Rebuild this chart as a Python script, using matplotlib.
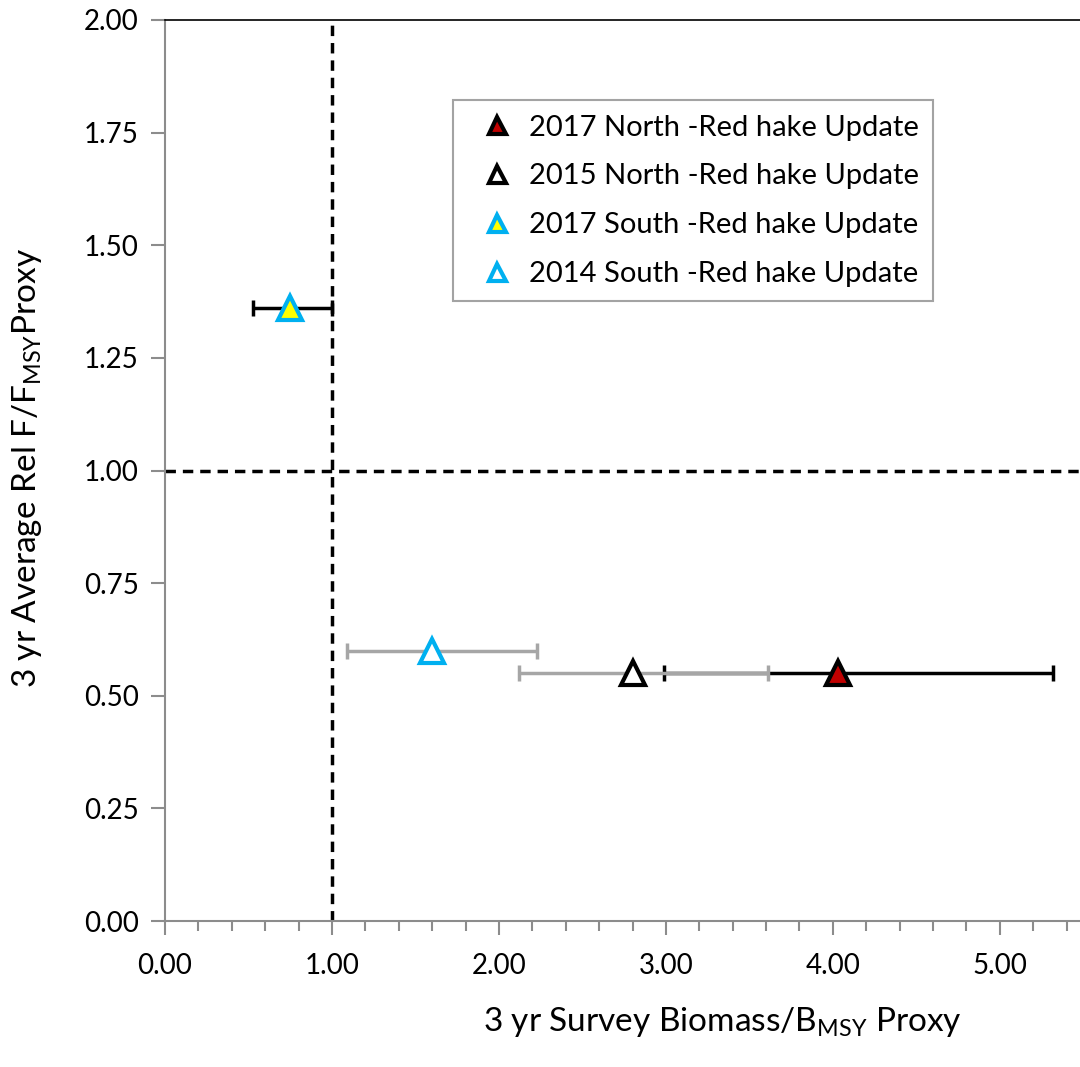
import matplotlib
matplotlib.use("Agg")
import matplotlib.pyplot as plt
from matplotlib.ticker import MultipleLocator, FormatStrFormatter

plt.rcParams['font.family'] = ['Lato', 'DejaVu Sans']

# series, drawn in this order (later on top)
labels = ["2017 North -Red hake Update", "2015 North -Red hake Update",
          "2017 South -Red hake Update", "2014 South -Red hake Update"]
x_vals = [4.03, 2.80, 0.75, 1.60]
y_vals = [0.55, 0.55, 1.36, 0.60]
x_lo = [2.99, 2.12, 0.53, 1.09]
x_hi = [5.32, 3.61, 1.00, 2.23]
face = ["#c00000", "white", "#ffff00", "white"]
edge = ["black", "black", "#00b0f0", "#00b0f0"]
err_col = ["black", "#a6a6a6", "black", "#a6a6a6"]

fig = plt.figure(figsize=(10.8, 10.67), dpi=100)
ax = fig.add_axes([165 / 1080, 1 - 921 / 1067, 1 - 165 / 1080, (921 - 20) / 1067])

for i in range(len(labels)):
    xerr = [[x_vals[i] - x_lo[i]], [x_hi[i] - x_vals[i]]]
    ax.errorbar([x_vals[i]], [y_vals[i]], xerr=xerr, fmt="none", ecolor=err_col[i],
                elinewidth=2.5, capsize=6, capthick=2.5, zorder=2 + i)

handles = []
for i in range(len(labels)):
    h, = ax.plot([x_vals[i]], [y_vals[i]], linestyle="none", marker="^", markersize=17,
                 markerfacecolor=face[i], markeredgecolor=edge[i], markeredgewidth=3,
                 label=labels[i], zorder=10)
    handles.append(h)

ax.axvline(1.0, color="black", linestyle=(0, (3, 2)), linewidth=2.5, zorder=1)
ax.axhline(1.0, color="black", linestyle=(0, (3, 2)), linewidth=2.5, zorder=1)

ax.set_xlim(0, 5.48)
ax.set_ylim(0, 2.0)
ax.xaxis.set_major_locator(MultipleLocator(1.0))
ax.xaxis.set_minor_locator(MultipleLocator(0.2))
ax.yaxis.set_major_locator(MultipleLocator(0.25))
ax.xaxis.set_major_formatter(FormatStrFormatter("%.2f"))
ax.yaxis.set_major_formatter(FormatStrFormatter("%.2f"))

for s in ("left", "bottom"):
    ax.spines[s].set_color("#8c8c8c")
    ax.spines[s].set_linewidth(1.5)
ax.spines["top"].set_color("black")
ax.spines["top"].set_linewidth(1.2)
ax.spines["right"].set_visible(False)

ax.tick_params(axis="both", which="both", direction="out", color="#8c8c8c",
               width=1.5, labelsize=20, labelcolor="black")
ax.tick_params(axis="x", which="major", length=10, pad=13)
ax.tick_params(axis="x", which="minor", length=7)
ax.tick_params(axis="y", which="major", length=10, pad=9)

leg = ax.legend(handles=handles, loc="upper left",
                bbox_to_anchor=((453 - 165) / 915, 1 - 80 / 901),
                fontsize=21, frameon=True, fancybox=False, edgecolor="#8c8c8c",
                markerscale=0.72, handletextpad=0.1, handlelength=2.0,
                labelspacing=0.78, borderpad=0.5, borderaxespad=0)
leg.get_frame().set_linewidth(1.5)

fig.text(722 / 1080, 1 - 1022 / 1067, r"3 yr Survey Biomass/B$_{\mathregular{MSY}}$ Proxy",
         ha="center", va="center", fontsize=24)
fig.text(27 / 1080, 1 - 468 / 1067, r"3 yr Average Rel F/F$_{\mathregular{MSY}}$Proxy",
         ha="center", va="center", rotation=90, fontsize=24)

fig.savefig("out.png", dpi=100)
